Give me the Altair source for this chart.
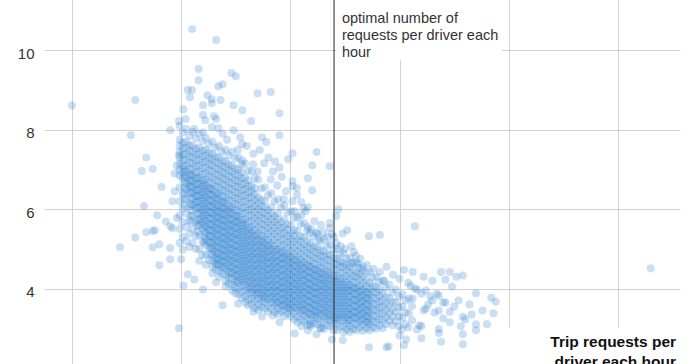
import altair as alt
import pandas as pd

# ---------------- values ----------------
Y_TICKS = [4, 6, 8, 10]
X_GRID = [0.5, 1.0, 1.5, 2.0, 2.5, 3.0]
OPTIMAL = 1.7
ANNOTATION = "optimal number of\nrequests per driver each\nhour"
X_TITLE = "Trip requests per\ndriver each hour"

# dense band of the cloud, read in narrow vertical strips (strip x, then the y values in it)
BAND_X = [0.993, 1.007, 1.023, 1.037, 1.053, 1.067, 1.083, 1.097, 1.113, 1.127,
          1.143, 1.157, 1.173, 1.187, 1.203, 1.217, 1.233, 1.247, 1.263, 1.277,
          1.293, 1.307, 1.323, 1.337, 1.353, 1.367, 1.383, 1.397, 1.413, 1.427,
          1.443, 1.457, 1.473, 1.487, 1.503, 1.517, 1.533, 1.547, 1.563, 1.577,
          1.593, 1.607, 1.623, 1.637, 1.653, 1.667, 1.683, 1.697, 1.713, 1.727,
          1.743, 1.757, 1.773, 1.787, 1.803, 1.817, 1.833, 1.847, 1.863, 1.877,
          1.893, 1.907, 1.923, 1.937, 1.953, 1.967, 1.983, 1.997, 2.013, 2.027,
          2.043, 2.057]
BAND_Y = [
    [8.1, 7.75, 7.6, 7.45, 7.3, 7.15, 7.0, 6.85, 6.55, 6.2, 5.85, 5.5, 5.15],
    [7.93, 7.68, 7.53, 7.38, 7.23, 7.08, 6.93, 6.78, 6.38, 6.02, 5.68, 5.3, 4.98],
    [8.02, 7.7, 7.55, 7.4, 7.25, 7.1, 6.95, 6.8, 6.65, 6.5, 6.25, 5.9, 5.55, 5.2],
    [7.85, 7.62, 7.47, 7.32, 7.17, 7.02, 6.87, 6.72, 6.57, 6.4, 6.08, 5.72, 5.38, 5.05],
    [7.95, 7.6, 7.45, 7.3, 7.15, 7.0, 6.85, 6.7, 6.55, 6.4, 6.25, 6.1, 5.85, 5.5, 5.15],
    [7.78, 7.53, 7.38, 7.23, 7.08, 6.93, 6.78, 6.63, 6.48, 6.33, 6.18, 6.02, 5.68, 5.32, 5.0],
    [7.9, 7.55, 7.4, 7.25, 7.1, 6.95, 6.8, 6.65, 6.5, 6.35, 6.2, 6.05, 5.9, 5.75, 5.6, 5.35, 5.0, 4.7],
    [7.72, 7.48, 7.33, 7.18, 7.03, 6.88, 6.73, 6.58, 6.43, 6.28, 6.13, 5.98, 5.83, 5.68, 5.52, 5.18, 4.85],
    [7.8, 7.5, 7.35, 7.2, 7.05, 6.9, 6.75, 6.6, 6.45, 6.3, 6.15, 6.0, 5.85, 5.7, 5.55, 5.4, 5.25, 5.1, 4.85, 4.6],
    [7.65, 7.43, 7.28, 7.13, 6.98, 6.83, 6.68, 6.53, 6.38, 6.23, 6.08, 5.93, 5.78, 5.63, 5.48, 5.33, 5.18, 5.02, 4.72],
    [7.7, 7.4, 7.25, 7.1, 6.95, 6.8, 6.65, 6.5, 6.35, 6.2, 6.05, 5.9, 5.75, 5.6, 5.45, 5.3, 5.15, 5.0, 4.85, 4.7, 4.55, 4.38],
    [7.55, 7.33, 7.18, 7.03, 6.88, 6.73, 6.58, 6.43, 6.28, 6.13, 5.98, 5.83, 5.68, 5.53, 5.38, 5.23, 5.08, 4.93, 4.78, 4.63, 4.48],
    [7.6, 7.3, 7.15, 7.0, 6.85, 6.7, 6.55, 6.4, 6.25, 6.1, 5.95, 5.8, 5.65, 5.5, 5.35, 5.2, 5.05, 4.9, 4.75, 4.6, 4.45, 4.3],
    [7.45, 7.23, 7.08, 6.93, 6.78, 6.63, 6.48, 6.33, 6.18, 6.03, 5.88, 5.73, 5.58, 5.43, 5.28, 5.13, 4.98, 4.83, 4.68, 4.53, 4.38],
    [7.5, 7.2, 7.05, 6.9, 6.75, 6.6, 6.45, 6.3, 6.15, 6.0, 5.85, 5.7, 5.55, 5.4, 5.25, 5.1, 4.95, 4.8, 4.65, 4.5, 4.35, 4.2, 4.05],
    [7.35, 7.13, 6.98, 6.83, 6.68, 6.53, 6.38, 6.23, 6.08, 5.93, 5.78, 5.63, 5.48, 5.33, 5.18, 5.03, 4.88, 4.73, 4.58, 4.43, 4.28, 4.12],
    [7.45, 7.1, 6.95, 6.8, 6.65, 6.5, 6.35, 6.2, 6.05, 5.9, 5.75, 5.6, 5.45, 5.3, 5.15, 5.0, 4.85, 4.7, 4.55, 4.4, 4.25, 4.1, 3.95],
    [7.28, 7.03, 6.88, 6.73, 6.58, 6.43, 6.28, 6.13, 5.98, 5.83, 5.68, 5.53, 5.38, 5.23, 5.08, 4.93, 4.78, 4.63, 4.48, 4.33, 4.18, 4.03, 3.88],
    [7.3, 7.0, 6.85, 6.7, 6.55, 6.4, 6.25, 6.1, 5.95, 5.8, 5.65, 5.5, 5.35, 5.2, 5.05, 4.9, 4.75, 4.6, 4.45, 4.3, 4.15, 4.0, 3.85],
    [7.13, 6.93, 6.78, 6.63, 6.48, 6.33, 6.18, 6.03, 5.88, 5.73, 5.58, 5.43, 5.28, 5.13, 4.98, 4.83, 4.68, 4.53, 4.38, 4.23, 4.08, 3.93, 3.76],
    [7.15, 6.8, 6.65, 6.5, 6.35, 6.2, 6.05, 5.9, 5.75, 5.6, 5.45, 5.3, 5.15, 5.0, 4.85, 4.7, 4.55, 4.4, 4.25, 4.1, 3.95, 3.8, 3.65],
    [6.97, 6.73, 6.58, 6.43, 6.28, 6.13, 5.98, 5.83, 5.68, 5.53, 5.38, 5.23, 5.08, 4.93, 4.78, 4.63, 4.48, 4.33, 4.18, 4.03, 3.88, 3.73, 3.58],
    [6.95, 6.6, 6.45, 6.3, 6.15, 6.0, 5.85, 5.7, 5.55, 5.4, 5.25, 5.1, 4.95, 4.8, 4.65, 4.5, 4.35, 4.2, 4.05, 3.9, 3.75, 3.6],
    [6.78, 6.53, 6.38, 6.23, 6.08, 5.93, 5.78, 5.63, 5.48, 5.33, 5.18, 5.03, 4.88, 4.73, 4.58, 4.43, 4.28, 4.13, 3.98, 3.83, 3.68, 3.51],
    [6.75, 6.3, 6.15, 6.0, 5.85, 5.7, 5.55, 5.4, 5.25, 5.1, 4.95, 4.8, 4.65, 4.5, 4.35, 4.2, 4.05, 3.9, 3.75, 3.6, 3.46],
    [6.52, 6.23, 6.08, 5.93, 5.78, 5.63, 5.48, 5.33, 5.18, 5.03, 4.88, 4.73, 4.58, 4.43, 4.28, 4.13, 3.98, 3.83, 3.68, 3.53],
    [6.55, 6.2, 6.05, 5.9, 5.75, 5.6, 5.45, 5.3, 5.15, 5.0, 4.85, 4.7, 4.55, 4.4, 4.25, 4.1, 3.95, 3.8, 3.65, 3.5],
    [6.35, 5.98, 5.83, 5.68, 5.53, 5.38, 5.23, 5.08, 4.93, 4.78, 4.63, 4.48, 4.33, 4.18, 4.03, 3.88, 3.73, 3.58, 3.42],
    [6.4, 6.05, 5.9, 5.75, 5.6, 5.45, 5.3, 5.15, 5.0, 4.85, 4.7, 4.55, 4.4, 4.25, 4.1, 3.95, 3.8, 3.65, 3.5],
    [6.2, 5.83, 5.68, 5.53, 5.38, 5.23, 5.08, 4.93, 4.78, 4.63, 4.48, 4.33, 4.18, 4.03, 3.88, 3.73, 3.58, 3.42],
    [6.25, 5.9, 5.75, 5.6, 5.45, 5.3, 5.15, 5.0, 4.85, 4.7, 4.55, 4.4, 4.25, 4.1, 3.95, 3.8, 3.65, 3.5, 3.36],
    [6.05, 5.68, 5.53, 5.38, 5.23, 5.08, 4.93, 4.78, 4.63, 4.48, 4.33, 4.18, 4.03, 3.88, 3.73, 3.58, 3.43],
    [6.1, 5.75, 5.55, 5.4, 5.25, 5.1, 4.95, 4.8, 4.65, 4.5, 4.35, 4.2, 4.05, 3.9, 3.75, 3.6, 3.45, 3.3],
    [5.92, 5.62, 5.48, 5.33, 5.18, 5.03, 4.88, 4.73, 4.58, 4.43, 4.28, 4.13, 3.98, 3.83, 3.68, 3.53, 3.38],
    [5.95, 5.6, 5.4, 5.25, 5.1, 4.95, 4.8, 4.65, 4.5, 4.35, 4.2, 4.05, 3.9, 3.75, 3.6, 3.45, 3.3],
    [5.78, 5.47, 5.33, 5.18, 5.03, 4.88, 4.73, 4.58, 4.43, 4.28, 4.13, 3.98, 3.83, 3.68, 3.53, 3.38, 3.22],
    [5.8, 5.45, 5.25, 5.1, 4.95, 4.8, 4.65, 4.5, 4.35, 4.2, 4.05, 3.9, 3.75, 3.6, 3.45, 3.3, 3.15],
    [5.62, 5.32, 5.18, 5.03, 4.88, 4.73, 4.58, 4.43, 4.28, 4.13, 3.98, 3.83, 3.68, 3.53, 3.38, 3.22],
    [5.65, 5.3, 5.12, 4.97, 4.82, 4.67, 4.52, 4.37, 4.22, 4.07, 3.92, 3.77, 3.62, 3.47, 3.32, 3.17],
    [5.47, 5.2, 5.05, 4.9, 4.75, 4.6, 4.45, 4.3, 4.15, 4.0, 3.85, 3.7, 3.55, 3.4, 3.25, 3.08],
    [5.5, 5.15, 5.0, 4.85, 4.7, 4.55, 4.4, 4.25, 4.1, 3.95, 3.8, 3.65, 3.5, 3.35, 3.2, 3.05],
    [5.32, 5.07, 4.93, 4.78, 4.63, 4.48, 4.33, 4.18, 4.03, 3.88, 3.73, 3.58, 3.43, 3.28, 3.12],
    [5.38, 5.05, 4.9, 4.75, 4.6, 4.45, 4.3, 4.15, 4.0, 3.85, 3.7, 3.55, 3.4, 3.25, 3.1],
    [5.2, 4.97, 4.83, 4.68, 4.53, 4.38, 4.23, 4.08, 3.93, 3.78, 3.63, 3.48, 3.33, 3.18, 3.0],
    [5.25, 4.95, 4.8, 4.65, 4.5, 4.35, 4.2, 4.05, 3.9, 3.75, 3.6, 3.45, 3.3, 3.15, 2.98],
    [5.08, 4.87, 4.73, 4.58, 4.43, 4.28, 4.13, 3.98, 3.83, 3.68, 3.53, 3.38, 3.23, 3.07],
    [5.12, 4.85, 4.7, 4.55, 4.4, 4.25, 4.1, 3.95, 3.8, 3.65, 3.5, 3.35, 3.2, 3.05],
    [4.97, 4.77, 4.63, 4.48, 4.33, 4.18, 4.03, 3.88, 3.73, 3.58, 3.43, 3.28, 3.13, 2.95],
    [5.0, 4.75, 4.62, 4.47, 4.32, 4.17, 4.02, 3.87, 3.72, 3.57, 3.42, 3.27, 3.12, 2.96],
    [4.86, 4.68, 4.55, 4.4, 4.25, 4.1, 3.95, 3.8, 3.65, 3.5, 3.35, 3.2, 3.04],
    [4.9, 4.65, 4.55, 4.4, 4.25, 4.1, 3.95, 3.8, 3.65, 3.5, 3.35, 3.2, 3.05, 2.9],
    [4.76, 4.6, 4.47, 4.32, 4.17, 4.02, 3.87, 3.72, 3.57, 3.42, 3.27, 3.12, 2.97],
    [4.78, 4.55, 4.4, 4.25, 4.1, 3.95, 3.8, 3.65, 3.5, 3.35, 3.2, 3.05, 2.91],
    [4.65, 4.47, 4.32, 4.17, 4.02, 3.87, 3.72, 3.57, 3.42, 3.27, 3.12, 2.98],
    [4.66, 4.42, 4.3, 4.15, 4.0, 3.85, 3.7, 3.55, 3.4, 3.25, 3.1, 2.95],
    [4.52, 4.36, 4.22, 4.07, 3.92, 3.77, 3.62, 3.47, 3.32, 3.17, 3.02],
    [4.55, 4.3, 4.14, 3.99, 3.84, 3.69, 3.54, 3.39, 3.24, 3.09, 2.94],
    [4.4, 4.21, 4.06, 3.91, 3.76, 3.61, 3.46, 3.31, 3.16, 3.01],
    [4.42, 4.15, 4.0, 3.85, 3.7, 3.55, 3.4, 3.25, 3.1, 2.95],
    [4.28, 4.07, 3.92, 3.77, 3.62, 3.47, 3.32, 3.17, 3.02],
    [4.3, 4.03, 3.9, 3.75, 3.6, 3.45, 3.3, 3.15, 2.99],
    [4.16, 3.97, 3.82, 3.67, 3.52, 3.37, 3.22, 3.07],
    [4.2, 3.88, 3.7, 3.54, 3.37, 3.2, 3.0],
    [4.02, 3.79, 3.62, 3.45, 3.28, 3.1],
    [4.1, 3.76, 3.57, 3.38, 3.19],
    [3.9, 3.67, 3.48, 3.29, 3.08],
    [3.98, 3.65, 3.42, 3.18],
    [3.8, 3.53, 3.3, 3.05],
    [3.86, 3.55, 3.26],
    [3.7, 3.4, 3.1],
    [3.75, 3.38],
    [3.56, 3.2],
]

# darkest ridge inside the band, read in strips as well
CORE_X = [1.015, 1.045, 1.075, 1.105, 1.135, 1.165, 1.195, 1.225, 1.255, 1.285,
          1.315, 1.345, 1.375, 1.405, 1.435, 1.465, 1.495, 1.525, 1.555, 1.585,
          1.615, 1.645, 1.675, 1.705, 1.735, 1.765, 1.795, 1.825, 1.855]
CORE_Y = [
    [7.0, 6.85, 6.7, 6.55, 6.4, 6.25, 6.1],
    [6.88, 6.73, 6.58, 6.43, 6.28, 6.13, 5.98, 5.83, 5.68],
    [6.78, 6.63, 6.48, 6.33, 6.18, 6.03, 5.88, 5.73, 5.58, 5.43],
    [6.66, 6.51, 6.36, 6.21, 6.06, 5.91, 5.76, 5.61, 5.46, 5.31, 5.16],
    [6.52, 6.37, 6.22, 6.07, 5.92, 5.77, 5.62, 5.47, 5.32, 5.17, 5.02, 4.87],
    [6.37, 6.22, 6.07, 5.92, 5.77, 5.62, 5.47, 5.32, 5.17, 5.02, 4.87, 4.72, 4.6],
    [6.2, 6.05, 5.9, 5.75, 5.6, 5.45, 5.3, 5.15, 5.0, 4.85, 4.7, 4.55],
    [6.02, 5.87, 5.72, 5.57, 5.42, 5.27, 5.12, 4.97, 4.82, 4.67, 4.52, 4.37],
    [5.85, 5.7, 5.55, 5.4, 5.25, 5.1, 4.95, 4.8, 4.65, 4.5, 4.35, 4.2],
    [5.66, 5.51, 5.36, 5.21, 5.06, 4.91, 4.76, 4.61, 4.46, 4.31, 4.16],
    [5.48, 5.33, 5.18, 5.03, 4.88, 4.73, 4.58, 4.43, 4.28, 4.13, 3.98],
    [5.35, 5.2, 5.05, 4.9, 4.75, 4.6, 4.45, 4.3, 4.15, 4.0, 3.87],
    [5.23, 5.08, 4.93, 4.78, 4.63, 4.48, 4.33, 4.18, 4.03, 3.88, 3.76],
    [5.1, 4.95, 4.8, 4.65, 4.5, 4.35, 4.2, 4.05, 3.9, 3.75],
    [4.98, 4.83, 4.68, 4.53, 4.38, 4.23, 4.08, 3.93, 3.78, 3.64],
    [4.9, 4.75, 4.6, 4.45, 4.3, 4.15, 4.0, 3.85, 3.7, 3.57],
    [4.81, 4.66, 4.51, 4.36, 4.21, 4.06, 3.91, 3.76, 3.61, 3.5],
    [4.72, 4.57, 4.42, 4.27, 4.12, 3.97, 3.82, 3.67, 3.52],
    [4.64, 4.49, 4.34, 4.19, 4.04, 3.89, 3.74, 3.59, 3.44],
    [4.57, 4.42, 4.27, 4.12, 3.97, 3.82, 3.67, 3.52, 3.37],
    [4.5, 4.35, 4.2, 4.05, 3.9, 3.75, 3.6, 3.45, 3.32],
    [4.42, 4.27, 4.12, 3.97, 3.82, 3.67, 3.52, 3.37],
    [4.35, 4.2, 4.05, 3.9, 3.75, 3.6, 3.45, 3.3],
    [4.25, 4.1, 3.95, 3.8, 3.65, 3.5, 3.35, 3.22],
    [4.17, 4.02, 3.87, 3.72, 3.57, 3.42, 3.28],
    [4.1, 3.95, 3.8, 3.65, 3.5, 3.35, 3.2],
    [4.02, 3.87, 3.72, 3.57, 3.42, 3.27],
    [3.96, 3.81, 3.66, 3.51, 3.36, 3.21],
    [3.9, 3.75, 3.6, 3.45, 3.3, 3.15],
]

# sparser points around the band, read one by one
SCATTER = [
    (0.50, 8.61), (0.79, 8.75), (0.77, 7.86), (1.05, 10.54), (1.16, 10.26),
    (1.08, 9.53), (1.08, 9.25), (1.03, 9.00), (1.05, 9.00), (1.04, 8.82),
    (1.12, 8.87), (1.14, 8.77), (1.14, 8.67), (1.18, 8.75), (1.17, 9.10), (1.19, 9.15),
    (1.23, 9.43), (1.25, 9.35), (1.35, 8.92), (1.41, 8.95), (1.01, 8.52), (1.10, 8.62),
    (1.24, 8.62), (1.28, 8.49), (1.45, 8.42), (1.32, 8.22),
    (1.10, 8.37), (1.15, 8.34), (1.11, 8.24), (1.16, 8.27),
    (0.99, 8.22), (0.95, 7.99), (1.02, 8.27),
    (1.06, 8.02), (1.10, 7.94), (1.14, 8.07), (1.17, 8.04), (1.24, 7.99),
    (1.27, 7.81), (1.37, 7.81), (1.39, 7.69), (1.45, 7.86), (1.28, 7.64), (1.30, 7.59),
    (1.36, 7.49), (1.51, 7.41), (1.62, 7.44), (1.49, 7.26), (1.38, 7.16), (1.33, 7.13), (1.28, 7.23),
    (1.60, 7.11), (1.68, 7.08), (1.58, 6.78), (1.51, 6.71),
    (1.42, 6.95), (1.46, 6.82), (1.35, 6.95), (1.44, 6.60), (1.48, 6.45), (1.41, 6.75),
    (1.47, 6.25), (1.53, 6.35), (1.45, 7.05), (1.40, 7.30),
    (1.21, 7.75), (1.19, 7.90), (1.26, 7.50), (1.33, 7.40), (1.43, 7.20),
    (0.84, 7.30), (0.82, 6.96), (0.87, 7.01), (0.91, 6.56), (0.97, 6.45), (0.83, 6.08), (0.89, 5.85),
    (0.93, 5.69), (0.95, 5.57), (0.96, 5.52), (0.79, 5.29), (0.72, 5.04), (0.84, 5.42), (0.87, 5.45),
    (0.88, 5.47), (0.87, 5.04), (0.90, 5.12), (0.95, 5.02), (0.98, 5.78), (0.95, 4.74), (1.00, 4.74),
    (0.90, 4.59), (0.99, 7.36), (0.97, 6.90), (0.96, 6.20), (0.98, 7.10),
    (1.03, 4.36), (1.06, 4.23), (1.01, 4.08), (1.10, 3.98), (1.16, 4.16), (1.19, 3.58), (0.99, 3.00),
    (1.37, 3.30), (1.42, 3.32), (1.55, 3.05), (1.59, 3.10), (1.52, 2.87), (1.69, 2.72), (1.74, 2.70),
    (1.64, 3.00), (1.26, 3.62), (1.33, 3.42), (1.45, 3.15), (1.58, 2.95), (1.62, 2.85),
    (1.60, 6.48), (1.51, 6.58), (1.53, 6.53), (1.72, 6.00), (1.56, 6.03), (1.57, 5.95),
    (1.51, 6.20), (1.55, 6.18), (1.58, 6.05), (1.71, 5.83), (1.68, 5.65), (1.76, 5.47), (1.74, 5.39), (1.68, 5.52),
    (1.59, 5.40), (1.62, 5.42), (1.65, 5.42), (1.69, 5.37), (1.70, 5.30), (1.86, 5.32), (1.91, 5.35), (2.07, 5.57),
    (1.73, 5.07), (1.78, 5.07), (1.80, 4.82), (1.78, 4.64), (1.81, 4.62), (1.83, 4.47),
    (1.94, 4.55), (2.02, 4.47), (2.06, 4.42), (2.19, 4.42), (2.23, 4.42), (2.26, 4.30), (2.29, 4.33),
    (2.11, 4.30), (2.15, 4.20), (2.21, 4.22), (2.24, 4.05), (2.35, 3.88), (2.42, 3.77), (2.44, 3.67), (2.43, 3.38),
    (2.17, 3.87), (2.21, 3.65), (2.05, 4.07), (2.08, 3.97), (2.10, 3.87), (2.14, 3.80), (2.20, 3.65), (2.18, 3.82),
    (2.12, 3.49), (2.11, 3.45), (2.16, 3.40), (2.18, 3.45), (2.23, 3.42), (2.20, 3.25), (2.23, 3.15),
    (2.29, 3.29), (2.30, 3.22), (2.35, 3.10), (2.35, 2.95), (2.28, 3.05), (2.18, 2.98), (2.18, 2.88),
    (2.29, 2.85), (2.29, 2.60), (2.19, 2.66), (2.01, 2.97), (2.04, 3.02), (2.08, 2.97), (2.10, 2.75),
    (2.00, 2.82), (2.03, 2.72), (1.95, 2.55), (1.94, 2.52), (1.86, 2.52), (2.02, 2.57), (2.09, 3.08), (2.10, 3.05),
    (1.52, 5.95), (1.55, 5.85), (1.61, 5.70), (1.64, 5.60), (1.58, 5.55), (1.67, 5.30), (1.63, 5.25),
    (1.71, 5.15), (1.75, 5.00), (1.79, 4.92), (1.82, 4.75), (1.85, 4.60), (1.88, 4.50), (1.91, 4.42),
    (1.97, 4.35), (2.00, 4.25), (1.93, 4.20), (2.04, 4.15), (2.07, 4.00), (2.12, 3.95), (2.15, 3.70),
    (2.13, 3.60), (2.06, 3.75), (2.25, 3.55), (2.27, 3.70), (2.32, 3.60), (2.38, 3.45), (2.33, 3.35), (2.40, 3.10),
    (3.15, 4.51),
]

# ---------------- build tables ----------------
rows = []
for bx, ys in list(zip(BAND_X, BAND_Y)) + list(zip(CORE_X, CORE_Y)):
    for yv in ys:
        rows.append({"x": bx, "y": yv})
for sx, sy in SCATTER:
    rows.append({"x": sx, "y": sy})
points_df = pd.DataFrame(rows)

X_DOMAIN = [0.372, 3.284]
Y_DOMAIN = [2.0, 11.27]

xs = alt.Scale(domain=X_DOMAIN, nice=False, zero=False)
ys_ = alt.Scale(domain=Y_DOMAIN, nice=False, zero=False)

GRID = "#d2d2d2"
X_AXIS = alt.Axis(values=X_GRID, grid=True, gridColor=GRID, gridWidth=1,
                  labels=False, ticks=False, domain=False, title=None)
Y_AXIS = alt.Axis(values=Y_TICKS, grid=True, gridColor=GRID, gridWidth=1,
                  ticks=False, tickSize=0, domain=False, title=None,
                  labelFont="Liberation Sans", labelFontSize=15, labelColor="#333333",
                  labelPadding=10, labelBaseline="middle", labelOffset=3)


def X(field):
    return alt.X(field, scale=xs, axis=X_AXIS)


def Y(field):
    return alt.Y(field, scale=ys_, axis=Y_AXIS)


points = alt.Chart(points_df).mark_circle(
    size=64, color="#2a7fcf", opacity=0.25
).encode(x=X("x:Q"), y=Y("y:Q"))

# white boxes behind the two text blocks
boxes_df = pd.DataFrame({
    "x": [1.712, 2.48], "x2": [2.47, 3.284],
    "y": [9.75, 2.0], "y2": [11.27, 3.02],
})
boxes = alt.Chart(boxes_df).mark_rect(color="white").encode(
    x=X("x:Q"), x2="x2:Q", y=Y("y:Q"), y2="y2:Q",
)

rule = alt.Chart(pd.DataFrame({"x": [OPTIMAL]})).mark_rule(
    color="#222222", strokeWidth=1
).encode(x=X("x:Q"))

note = alt.Chart(pd.DataFrame({"x": [1.736], "y": [10.688], "t": [ANNOTATION]})).mark_text(
    align="left", baseline="alphabetic", lineBreak="\n", lineHeight=17,
    font="Liberation Sans", fontSize=14.5, color="#333333"
).encode(x=X("x:Q"), y=Y("y:Q"), text="t:N")

xtitle = alt.Chart(pd.DataFrame({"x": [3.266], "y": [2.52], "t": [X_TITLE]})).mark_text(
    align="right", baseline="alphabetic", lineBreak="\n", lineHeight=20,
    font="Liberation Sans", fontSize=15.5, fontWeight="bold", color="#111111"
).encode(x=X("x:Q"), y=Y("y:Q"), text="t:N")

chart = alt.layer(points, boxes, rule, note, xtitle).properties(
    width=636, height=368,
    autosize=alt.AutoSizeParams(type="none"),
    padding={"left": 44, "right": 16, "top": 0, "bottom": 0},
).configure_view(stroke=None)

chart.save("out.html", embed_options={"renderer": "svg", "actions": False})
